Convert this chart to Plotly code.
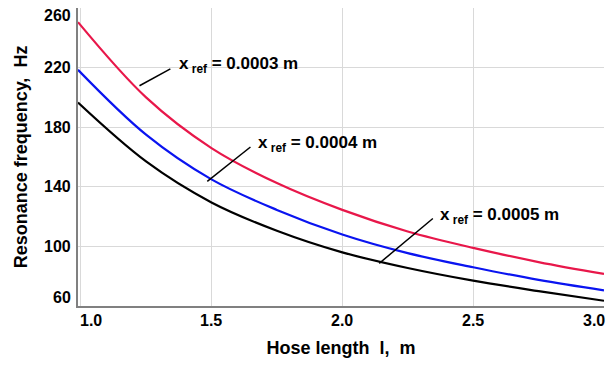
import plotly.graph_objects as go

hose_length = [0.99, 1.25, 1.5, 1.75, 2.0, 2.25, 2.5, 2.75, 3.0]
freq_0003 = [250.5, 200.0, 166.0, 142.5, 124.5, 110.0, 99.0, 89.5, 81.5]
freq_0004 = [218.5, 175.0, 145.0, 124.5, 108.0, 95.5, 86.0, 77.5, 70.5]
freq_0005 = [196.5, 157.0, 129.5, 110.5, 96.0, 85.5, 77.0, 70.0, 63.5]

series = [
    ("x<sub> ref</sub> = 0.0003 m", freq_0003, "#E8174A"),
    ("x<sub> ref</sub> = 0.0004 m", freq_0004, "#0A14F0"),
    ("x<sub> ref</sub> = 0.0005 m", freq_0005, "#000000"),
]

# leader lines: (curve point x, y) -> (label end x, y), and label anchor
leaders = [
    (1.225, 207.8, 1.343, 219.2, 1.368, 221.5),
    (1.484, 143.6, 1.649, 166.7, 1.670, 168.5),
    (2.141, 88.6, 2.346, 118.7, 2.364, 120.5),
]

x_ticks = [1.0, 1.5, 2.0, 2.5, 3.0]
x_tick_text = ["1.0", "1.5", "2.0", "2.5", "3.0"]
y_ticks = [60, 100, 140, 180, 220, 260]
y_tick_text = ["60", "100", "140", "180", "220", "260"]

FONT = "Liberation Sans, Arial, sans-serif"

fig = go.Figure()
for name, vals, col in series:
    fig.add_trace(go.Scatter(x=hose_length, y=vals, mode="lines", name=name,
                             line=dict(color=col, width=2.2, shape="spline", smoothing=1.0)))

for (i, (x0, y0, x1, y1, tx, ty)) in enumerate(leaders):
    fig.add_shape(type="line", x0=x0, y0=y0, x1=x1, y1=y1, xref="x", yref="y",
                  line=dict(color="black", width=1.5))
    fig.add_annotation(x=tx, y=ty, xref="x", yref="y", text=series[i][0],
                       showarrow=False, xanchor="left", yanchor="middle",
                       font=dict(family=FONT, size=17, color="black", weight="bold"))

# tick labels (end labels nudged inward as in the reference)
for i, (v, t) in enumerate(zip(y_ticks, y_tick_text)):
    shift = 0
    if i == 0:
        shift = 9
    elif i == len(y_ticks) - 1:
        shift = -7
    fig.add_annotation(x=0, y=v, xref="paper", yref="y", text=t, showarrow=False,
                       xanchor="right", yanchor="middle", xshift=-5, yshift=shift,
                       font=dict(family=FONT, size=16, color="black", weight="bold"))
for i, (v, t) in enumerate(zip(x_ticks, x_tick_text)):
    shift = 0
    if i == 0:
        shift = 10
    elif i == len(x_ticks) - 1:
        shift = -10
    fig.add_annotation(x=v, y=0, xref="x", yref="paper", text=t, showarrow=False,
                       xanchor="center", yanchor="top", xshift=shift, yshift=-4,
                       font=dict(family=FONT, size=16, color="black", weight="bold"))

fig.update_layout(
    width=611, height=365,
    margin=dict(l=78, r=7, t=8, b=59),
    plot_bgcolor="white", paper_bgcolor="white",
    showlegend=False,
    font=dict(family=FONT, size=16, color="black"),
)
fig.update_xaxes(range=[0.99, 3.0], tickvals=x_ticks, showticklabels=False,
                 showgrid=True, gridcolor="#d9d9d9", gridwidth=1,
                 showline=True, linecolor="#808080", linewidth=2, zeroline=False,
                 ticks="",
                 title=dict(text="Hose length  l,  m", font=dict(family=FONT, size=18, weight="bold"),
                            standoff=34))
fig.update_yaxes(range=[60, 260], tickvals=y_ticks, showticklabels=False,
                 showgrid=True, gridcolor="#d9d9d9", gridwidth=1,
                 showline=True, linecolor="#808080", linewidth=2, zeroline=False,
                 ticks="",
                 title=dict(text="Resonance frequency,  Hz", font=dict(family=FONT, size=18, weight="bold"),
                            standoff=44))

fig.write_html("out.html")
